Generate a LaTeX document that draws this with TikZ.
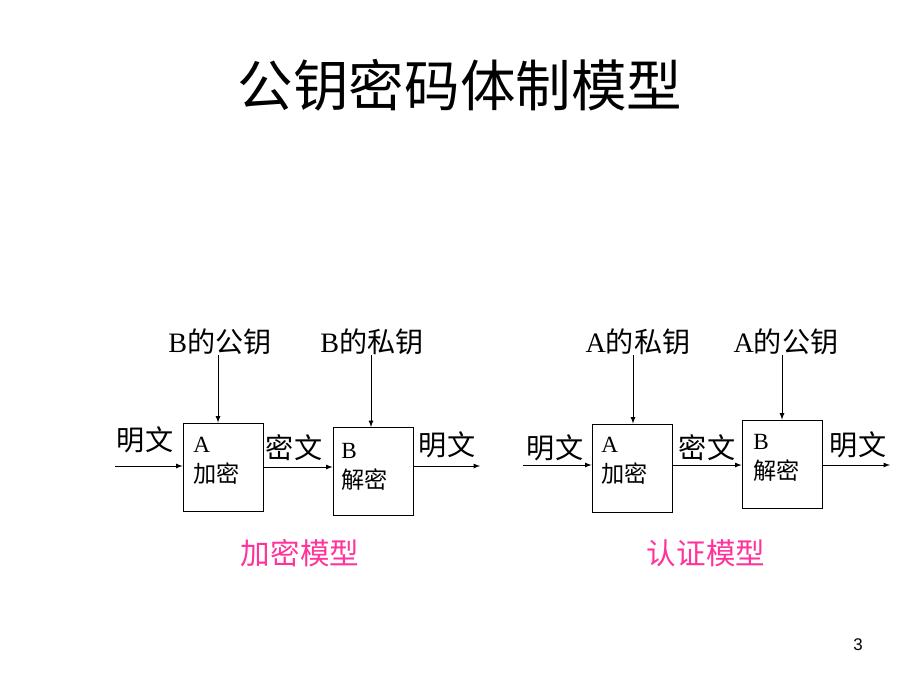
\documentclass[tikz,border=0pt]{standalone}
\usepackage{fontspec}
\setmainfont{Liberation Serif}
\newfontfamily\cjk{Noto Sans CJK SC}
\newfontfamily\pagefont{Liberation Sans}
\usetikzlibrary{arrows,positioning}
\definecolor{modelpink}{RGB}{255,51,153}
\tikzset{
  box/.style={draw, line width=0.6pt, minimum width=80*0.025cm, minimum height=88*0.025cm, inner sep=0pt},
  lbl/.style={font=\fontsize{20}{22}\selectfont, inner sep=0pt},
  boxtxt/.style={font=\fontsize{16.5}{18}\selectfont, inner sep=0pt, anchor=west, align=left},
  arr/.style={->, >=latex, line width=0.6pt}
}

\begin{document}
\begin{tikzpicture}[x=0.025cm, y=-0.025cm]
\useasboundingbox (0,0) rectangle (920,690);

% Title.
\node (title) at (460,85) {\fontsize{39.5}{42}\selectfont\cjk 公钥密码体制模型};

% Encryption model (left).
\node[box] (encA) at (223,467) {};
\node[box] (decB) at (373,471.5) {};
\node[boxtxt] (encAtxt) at (193,461) {A\\[3pt]{\cjk 加密}};
\node[boxtxt] (decBtxt) at (341,467) {B\\[3pt]{\cjk 解密}};
\node[lbl] (pkB) at (220,342) {B{\cjk 的公钥}};
\node[lbl] (skB) at (372,342) {B{\cjk 的私钥}};
\coordinate (inL) at (115,466);
\coordinate (outL) at (480,466);
\draw[arr] (inL) -- (inL -| encA.west);
\draw[arr] (encA.east |- 0,467) -- (decB.west |- 0,467);
\draw[arr] (decB.east |- outL) -- (outL);
\draw[arr] (pkB.south -| 218,0) -- (encA.north -| 218,0);
\draw[arr] (skB.south -| 371,0) -- (decB.north -| 371,0);
\node[lbl] (ptL1) at (145,440) {\cjk 明文};
\node[lbl] (ctL) at (294,448) {\cjk 密文};
\node[lbl] (ptL2) at (447,445) {\cjk 明文};
\node (encModel) at (300,553) {\fontsize{21}{23}\selectfont\color{modelpink}\cjk 加密模型};

% Authentication model (right).
\node[box] (sigA) at (632,468) {};
\node[box] (verB) at (782,464) {};
\node[boxtxt] (sigAtxt) at (601,461) {A\\[3pt]{\cjk 加密}};
\node[boxtxt] (verBtxt) at (753,458) {B\\[3pt]{\cjk 解密}};
\node[lbl] (skA) at (638,342) {A{\cjk 的私钥}};
\node[lbl] (pkA) at (786,342) {A{\cjk 的公钥}};
\coordinate (inR) at (523,465);
\coordinate (outR) at (890,465);
\draw[arr] (inR) -- (inR -| sigA.west);
\draw[arr] (sigA.east |- inR) -- (verB.west |- inR);
\draw[arr] (verB.east |- outR) -- (outR);
\draw[arr] (skA.south -| 633,0) -- (sigA.north -| 633,0);
\draw[arr] (pkA.south -| 782,0) -- (verB.north -| 782,0);
\node[lbl] (ptR1) at (555,448) {\cjk 明文};
\node[lbl] (ctR) at (707,448) {\cjk 密文};
\node[lbl] (ptR2) at (858,445) {\cjk 明文};
\node (authModel) at (706,553) {\fontsize{21}{23}\selectfont\color{modelpink}\cjk 认证模型};

% Page number.
\node (pagenum) at (858,645) {\fontsize{12}{14}\selectfont\pagefont 3};
\end{tikzpicture}
\end{document}
